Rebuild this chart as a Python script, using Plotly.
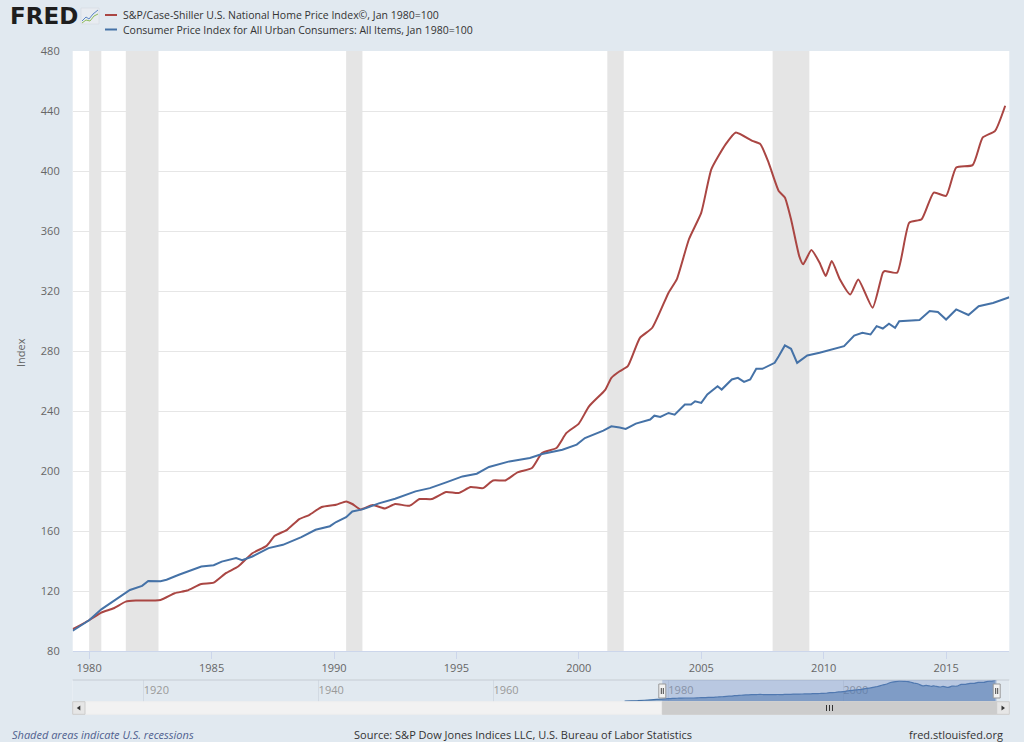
import plotly.graph_objects as go

# ---------------- data ----------------
hpi_dates = ["1979-05-01", "1980-01-01", "1980-07-01", "1981-01-01", "1981-07-01", "1981-12-01",
             "1982-12-01", "1983-07-01", "1984-01-01", "1984-08-01", "1985-02-01", "1985-08-01",
             "1986-02-01", "1986-09-01", "1987-04-01", "1987-08-01", "1988-02-01", "1988-08-01",
             "1989-01-01", "1989-07-01", "1990-02-01", "1990-07-01", "1990-10-01", "1991-02-01",
             "1991-08-01", "1992-02-01", "1992-07-01", "1993-02-01", "1993-07-01", "1994-01-01",
             "1994-08-01", "1995-02-01", "1995-08-01", "1996-02-01", "1996-07-01", "1997-01-01",
             "1997-07-01", "1998-02-01", "1998-07-01", "1999-02-01", "1999-07-01", "2000-01-01",
             "2000-06-01", "2001-02-01", "2001-05-01", "2001-09-01", "2002-01-01", "2002-07-01",
             "2003-01-01", "2003-09-01", "2004-01-01", "2004-07-01", "2005-01-01", "2005-06-01",
             "2006-01-01", "2006-06-01", "2007-02-01", "2007-06-01", "2007-10-01", "2008-03-01",
             "2008-06-01", "2008-09-01", "2009-01-01", "2009-03-01", "2009-07-01", "2009-11-01",
             "2010-02-01", "2010-05-01", "2010-09-01", "2011-02-01", "2011-06-01", "2012-01-01",
             "2012-06-01", "2012-07-01", "2013-01-01", "2013-07-01", "2014-01-01", "2014-07-01",
             "2015-01-01", "2015-06-01", "2016-02-01", "2016-07-01", "2017-01-01", "2017-06-01"]
hpi_values = [94.5, 100.5, 105.6, 108.5, 112.9, 113.6,
              114.0, 118.5, 120.3, 124.7, 125.6, 131.9,
              136.3, 145.2, 150.1, 156.8, 160.8, 167.9,
              170.8, 176.0, 177.5, 179.7, 178.0, 174.4,
              177.3, 175.0, 178.0, 176.8, 181.3, 181.3,
              186.0, 185.3, 189.3, 188.6, 193.7, 193.7,
              199.1, 202.0, 212.0, 215.3, 225.4, 231.6,
              243.1, 254.3, 262.1, 266.5, 269.9, 288.8,
              295.5, 318.9, 327.7, 354.5, 372.3, 401.2,
              417.9, 425.7, 420.1, 417.9, 405.7, 386.7,
              382.3, 367.8, 343.3, 337.8, 347.3, 338.9,
              330.0, 340.0, 327.7, 317.7, 327.7, 308.8,
              332.2, 333.3, 332.2, 365.6, 367.8, 385.6,
              383.4, 402.3, 403.9, 422.4, 426.8, 443.5]

# earlier part of the home price series, only visible in the navigator
hpi_early_dates = ["1975-01-01", "1976-07-01", "1978-01-01"]
hpi_early_values = [56.0, 65.0, 80.0]

cpi_dates = ["1979-05-01", "1980-01-01", "1980-07-01", "1981-02-01", "1981-09-01", "1982-03-01",
             "1982-06-01", "1982-12-01", "1983-03-01", "1983-09-01", "1984-08-01", "1985-02-01",
             "1985-06-01", "1986-01-01", "1986-04-01", "1986-09-01", "1987-05-01", "1987-12-01",
             "1988-09-01", "1989-04-01", "1989-11-01", "1990-02-01", "1990-07-01", "1990-10-01",
             "1991-03-01", "1991-11-01", "1992-07-01", "1993-05-01", "1993-12-01", "1994-08-01",
             "1995-04-01", "1995-11-01", "1996-05-01", "1997-03-01", "1998-01-01", "1998-07-01",
             "1999-05-01", "1999-12-01", "2000-04-01", "2001-01-01", "2001-05-01", "2001-09-01",
             "2001-12-01", "2002-05-01", "2002-12-01", "2003-02-01", "2003-05-01", "2003-09-01",
             "2003-12-01", "2004-05-01", "2004-08-01", "2004-10-01", "2005-01-01", "2005-04-01",
             "2005-09-01", "2005-11-01", "2006-04-01", "2006-07-01", "2006-10-01", "2007-01-01",
             "2007-04-01", "2007-07-01", "2007-10-01", "2008-01-01", "2008-03-01", "2008-06-01",
             "2008-09-01", "2008-12-01", "2009-05-01", "2009-11-01", "2010-11-01", "2011-04-01",
             "2011-08-01", "2011-12-01", "2012-03-01", "2012-06-01", "2012-09-01", "2012-12-01",
             "2013-02-01", "2013-12-01", "2014-05-01", "2014-09-01", "2015-01-01", "2015-06-01",
             "2015-12-01", "2016-05-01", "2016-12-01", "2017-08-01"]
cpi_values = [93.5, 100.5, 107.8, 114.0, 120.7, 123.4,
              126.7, 126.5, 127.5, 130.8, 136.3, 137.2,
              139.6, 141.9, 140.5, 143.0, 148.6, 150.8,
              155.9, 160.8, 163.2, 166.0, 169.2, 173.0,
              174.4, 178.4, 181.5, 186.4, 188.6, 192.4,
              196.4, 198.2, 202.7, 206.4, 208.7, 211.3,
              214.2, 217.6, 222.0, 226.9, 229.8, 229.0,
              228.0, 231.6, 234.3, 236.9, 236.0, 238.7,
              237.6, 244.3, 244.3, 246.5, 245.4, 251.0,
              256.5, 254.3, 261.0, 262.1, 259.4, 261.0,
              268.1, 268.1, 270.3, 272.1, 276.5, 283.7,
              281.5, 272.1, 277.0, 278.8, 283.2, 290.3,
              292.1, 291.0, 296.6, 295.0, 298.2, 295.5,
              299.9, 300.6, 306.6, 306.0, 301.0, 307.7,
              304.0, 309.9, 312.0, 315.8]

recession_starts = ["1980-01-01", "1981-07-01", "1990-07-01", "2001-03-01", "2007-12-01"]
recession_ends = ["1980-07-01", "1982-11-01", "1991-03-01", "2001-11-01", "2009-06-01"]

y_ticks = [80, 120, 160, 200, 240, 280, 320, 360, 400, 440, 480]
x_tick_years = [1980, 1985, 1990, 1995, 2000, 2005, 2010, 2015]
nav_tick_years = [1920, 1940, 1960, 1980, 2000]

hpi_name = "S&P/Case-Shiller U.S. National Home Price Index©, Jan 1980=100"
cpi_name = "Consumer Price Index for All Urban Consumers: All Items, Jan 1980=100"

RED = "#aa4643"
BLUE = "#4572a7"
BG = "#e1e9f0"

# ---------------- layout helpers (pixel -> paper) ----------------
W, H = 1024, 742
def fx(px):
    return px / W
def fy(py):
    return 1 - py / H

PL, PR, PT, PB = 72.7, 1009.3, 51, 651
NT, NB = 680, 701.7
ST, SB = 701.7, 714.3
SEL_L, SEL_R = 662.3, 996.7

fig = go.Figure()

fig.add_trace(go.Scatter(x=hpi_dates, y=hpi_values, mode="lines", name=hpi_name,
                         line=dict(color=RED, width=2, shape="spline", smoothing=0.5),
                         xaxis="x", yaxis="y", showlegend=False))
fig.add_trace(go.Scatter(x=cpi_dates, y=cpi_values, mode="lines", name=cpi_name,
                         line=dict(color=BLUE, width=2),
                         xaxis="x", yaxis="y", showlegend=False))

# navigator series
fig.add_trace(go.Scatter(x=hpi_early_dates + hpi_dates, y=hpi_early_values + hpi_values,
                         mode="lines", fill="tozeroy", fillcolor="rgba(69,114,167,0.55)",
                         line=dict(color=BLUE, width=1.2, shape="spline", smoothing=0.5),
                         xaxis="x2", yaxis="y2", showlegend=False, hoverinfo="skip"))

shapes = []
for s, e in zip(recession_starts, recession_ends):
    shapes.append(dict(type="rect", xref="x", yref="y", x0=s, x1=e, y0=80, y1=480,
                       fillcolor="#e5e5e5", line=dict(width=0), layer="between"))

# navigator background (same as page)
shapes.append(dict(type="rect", xref="x2 domain", yref="y2 domain", x0=0, x1=1, y0=0, y1=1,
                   fillcolor=BG, line=dict(width=0), layer="below"))
# navigator top border
shapes.append(dict(type="line", xref="paper", yref="paper", x0=fx(PL), x1=fx(PR),
                   y0=fy(NT), y1=fy(NT), line=dict(color="#c6ccd3", width=1)))
# navigator mask
shapes.append(dict(type="rect", xref="paper", yref="paper", x0=fx(SEL_L), x1=fx(SEL_R),
                   y0=fy(NB), y1=fy(NT), fillcolor="rgba(102,133,194,0.33)",
                   line=dict(width=0), layer="above"))
# handles
for hx in (SEL_L, SEL_R):
    shapes.append(dict(type="rect", xref="paper", yref="paper", x0=fx(hx - 3.5), x1=fx(hx + 3.5),
                       y0=fy(698), y1=fy(684), fillcolor="#f2f2f2",
                       line=dict(color="#999999", width=1), layer="above"))
    for dx in (-1, 1):
        shapes.append(dict(type="line", xref="paper", yref="paper", x0=fx(hx + dx), x1=fx(hx + dx),
                           y0=fy(694), y1=fy(688), line=dict(color="#444444", width=1),
                           layer="above"))
# scrollbar track
shapes.append(dict(type="rect", xref="paper", yref="paper", x0=fx(PL), x1=fx(PR),
                   y0=fy(SB), y1=fy(ST), fillcolor="#f2f2f2",
                   line=dict(color="#eeeeee", width=1)))
# scrollbar thumb
shapes.append(dict(type="rect", xref="paper", yref="paper", x0=fx(SEL_L), x1=fx(SEL_R),
                   y0=fy(SB), y1=fy(ST), fillcolor="#cccccc",
                   line=dict(color="#cccccc", width=1)))
gc = (SEL_L + SEL_R) / 2
for dx in (-3, 0, 3):
    shapes.append(dict(type="line", xref="paper", yref="paper", x0=fx(gc + dx), x1=fx(gc + dx),
                       y0=fy(711), y1=fy(705), line=dict(color="#333333", width=1)))
# scrollbar buttons
for bx0, bx1 in ((PL, PL + 12.3), (PR - 12.6, PR)):
    shapes.append(dict(type="rect", xref="paper", yref="paper", x0=fx(bx0), x1=fx(bx1),
                       y0=fy(SB), y1=fy(ST), fillcolor="#e6e6e6",
                       line=dict(color="#cccccc", width=1)))
# arrows
lc = PL + 6.1
shapes.append(dict(type="path", xref="paper", yref="paper",
                   path=f"M {fx(lc-2)},{fy(708)} L {fx(lc+1.5)},{fy(705.5)} L {fx(lc+1.5)},{fy(710.5)} Z",
                   fillcolor="#333333", line=dict(width=0)))
rc = PR - 6.3
shapes.append(dict(type="path", xref="paper", yref="paper",
                   path=f"M {fx(rc+2)},{fy(708)} L {fx(rc-1.5)},{fy(705.5)} L {fx(rc-1.5)},{fy(710.5)} Z",
                   fillcolor="#333333", line=dict(width=0)))

# legend samples
shapes.append(dict(type="line", xref="paper", yref="paper", x0=fx(105), x1=fx(117),
                   y0=fy(15), y1=fy(15), line=dict(color=RED, width=2)))
shapes.append(dict(type="line", xref="paper", yref="paper", x0=fx(105), x1=fx(117),
                   y0=fy(29.5), y1=fy(29.5), line=dict(color=BLUE, width=2)))

# FRED icon
shapes.append(dict(type="rect", xref="paper", yref="paper", x0=fx(81), x1=fx(99),
                   y0=fy(24), y1=fy(8), fillcolor="#e8ecf1", line=dict(color="#d0d6de", width=0.5)))
shapes.append(dict(type="path", xref="paper", yref="paper",
                   path=f"M {fx(82)},{fy(21)} L {fx(86)},{fy(17)} L {fx(89)},{fy(19)} L {fx(93)},{fy(14)} L {fx(98)},{fy(10)}",
                   line=dict(color="#5b86c5", width=1)))
shapes.append(dict(type="path", xref="paper", yref="paper",
                   path=f"M {fx(82)},{fy(23)} L {fx(86)},{fy(20)} L {fx(90)},{fy(21)} L {fx(94)},{fy(16)} L {fx(98)},{fy(14)}",
                   line=dict(color="#8dbb5a", width=1)))

annotations = [
    dict(text="<b>FRED</b>", x=fx(8), y=fy(16), xref="paper", yref="paper", xanchor="left",
         yanchor="middle", showarrow=False, font=dict(family="DejaVu Sans", size=23, color="#1e1e1e")),
    dict(text=hpi_name, x=fx(121), y=fy(15), xref="paper", yref="paper", xanchor="left",
         yanchor="middle", showarrow=False, font=dict(size=10.5, color="#333333")),
    dict(text=cpi_name, x=fx(121), y=fy(29.5), xref="paper", yref="paper", xanchor="left",
         yanchor="middle", showarrow=False, font=dict(size=10.5, color="#333333")),
    dict(text="Index", x=fx(20), y=fy(353), xref="paper", yref="paper", textangle=-90,
         xanchor="center", yanchor="middle", showarrow=False, font=dict(size=11, color="#666666")),
    dict(text="<i>Shaded areas indicate U.S. recessions</i>", x=fx(10), y=fy(734), xref="paper",
         yref="paper", xanchor="left", yanchor="middle", showarrow=False,
         font=dict(size=11, color="#4f5f8f")),
    dict(text="Source: S&P Dow Jones Indices LLC, U.S. Bureau of Labor Statistics", x=fx(523),
         y=fy(734), xref="paper", yref="paper", xanchor="center", yanchor="middle", showarrow=False,
         font=dict(size=11, color="#333333")),
    dict(text="fred.stlouisfed.org", x=fx(1005), y=fy(734), xref="paper", yref="paper",
         xanchor="right", yanchor="middle", showarrow=False, font=dict(size=11, color="#333333")),
]

fig.update_layout(
    width=W, height=H,
    margin=dict(l=0, r=0, t=0, b=0, autoexpand=False),
    paper_bgcolor=BG, plot_bgcolor="white",
    font=dict(family="Open Sans", size=11, color="#666666"),
    showlegend=False,
    xaxis=dict(domain=[fx(PL), fx(PR)], type="date", range=["1979-05-01", "2017-08-01"],
               tickvals=[f"{y}-01-01" for y in x_tick_years], ticktext=[str(y) for y in x_tick_years],
               showgrid=False, showline=True, linecolor="#ccd6eb", linewidth=1,
               ticks="outside", ticklen=7, tickcolor="#ccd6eb", tickfont=dict(size=11, color="#666666"),
               anchor="y", automargin=False, zeroline=False, fixedrange=True),
    yaxis=dict(domain=[fy(PB), fy(PT)], range=[80, 480], tickvals=y_ticks,
               showgrid=True, gridcolor="#e6e6e6", gridwidth=1, showline=False, zeroline=False,
               ticks="", ticklabelstandoff=12, tickfont=dict(size=11, color="#666666"),
               anchor="x", automargin=False, fixedrange=True),
    xaxis2=dict(domain=[fx(PL), fx(PR)], type="date", range=["1911-11-15", "2019-01-01"],
                tickvals=[f"{y}-01-01" for y in nav_tick_years], ticktext=[str(y) for y in nav_tick_years],
                ticklabelposition="inside right", ticks="", showgrid=True, gridcolor="#d2dae3",
                showline=False, zeroline=False, tickfont=dict(size=11, color="#999999"),
                anchor="y2", automargin=False, fixedrange=True, layer="below traces"),
    yaxis2=dict(domain=[fy(NB), fy(NT)], range=[45, 447], showticklabels=False, showgrid=False,
                zeroline=False, showline=False, anchor="x2", automargin=False, fixedrange=True),
    shapes=shapes,
    annotations=annotations,
)

fig.write_html("out.html",
               config={"displayModeBar": False},
               post_script="document.body.style.margin='0px';document.body.style.overflow='hidden';"
                           "document.body.style.background='" + BG + "';")
